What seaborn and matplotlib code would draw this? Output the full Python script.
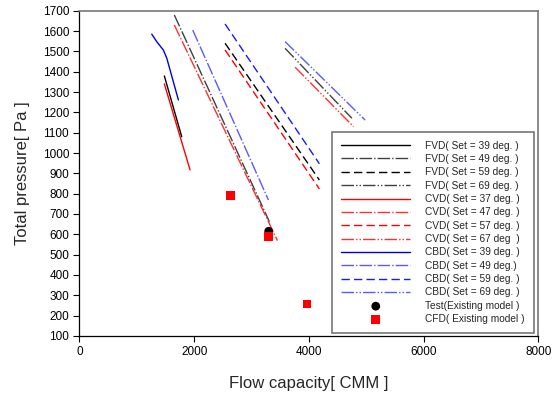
import matplotlib
matplotlib.use("Agg")
import matplotlib.pyplot as plt
import seaborn as sns
import pandas as pd

sns.set_theme(style="white")
plt.rcParams['font.family'] = ['Liberation Sans', 'DejaVu Sans']

# ---- data ----
fvd39_x = [1480, 1783]; fvd39_y = [1379, 1080]
fvd49_x = [1654, 3312]; fvd49_y = [1679, 662]
fvd59_x = [2539, 4184]; fvd59_y = [1540, 867]
fvd69_x = [3586, 4750]; fvd69_y = [1515, 1171]

cvd37_x = [1480, 1928]; cvd37_y = [1340, 917]
cvd47_x = [1654, 3452]; cvd47_y = [1630, 569]
cvd57_x = [2539, 4184]; cvd57_y = [1507, 823]
cvd67_x = [3761, 4778]; cvd67_y = [1422, 1130]

cbd39_x = [1260, 1352, 1462, 1522, 1725]; cbd39_y = [1585, 1546, 1507, 1467, 1261]
cbd49_x = [1975, 3295]; cbd49_y = [1605, 769]
cbd59_x = [2539, 4184]; cbd59_y = [1635, 947]
cbd69_x = [3586, 4982]; cbd69_y = [1548, 1162]

test_x = [3300]; test_y = [615]
cfd_x = [2638, 3295, 3965]; cfd_y = [792, 589, 257]

labels = ["FVD( Set = 39 deg. )", "FVD( Set = 49 deg. )", "FVD( Set = 59 deg. )", "FVD( Set = 69 deg. )",
          "CVD( Set = 37 deg. )", "CVD( Set = 47 deg. )", "CVD( Set = 57 deg. )", "CVD( Set = 67 deg  )",
          "CBD( Set = 39 deg. )", "CBD( Set = 49 deg.)", "CBD( Set = 59 deg. )", "CBD( Set = 69 deg. )"]

x_ticks = [0, 2000, 4000, 6000, 8000]
y_ticks = list(range(100, 1800, 100))

# ---- styles ----
solid = '-'
dashdot = (0, (9, 1.5, 1, 1.5))
dashed = (0, (6, 3))
dashdotdot = (0, (9, 1.5, 1, 1.5, 1, 1.5))

series = [
    (fvd39_x, fvd39_y, '#000000', solid),
    (fvd49_x, fvd49_y, '#404040', dashdot),
    (fvd59_x, fvd59_y, '#000000', dashed),
    (fvd69_x, fvd69_y, '#404040', dashdotdot),
    (cvd37_x, cvd37_y, '#ff0000', solid),
    (cvd47_x, cvd47_y, '#ff3030', dashdot),
    (cvd57_x, cvd57_y, '#ff0000', dashed),
    (cvd67_x, cvd67_y, '#ff3030', dashdotdot),
    (cbd39_x, cbd39_y, '#0000dd', solid),
    (cbd49_x, cbd49_y, '#5a5aff', dashdot),
    (cbd59_x, cbd59_y, '#1a1aff', dashed),
    (cbd69_x, cbd69_y, '#5a5aff', dashdotdot),
]

fig = plt.figure(figsize=(5.52, 3.98), dpi=100)
ax = fig.add_axes([0.144, 0.156, 0.831, 0.817])

for (xs, ys, c, ls), lab in zip(series, labels):
    sns.lineplot(x=xs, y=ys, color=c, linestyle=ls, linewidth=1.0, ax=ax,
                 label=lab, sort=False, estimator=None)

sns.scatterplot(x=test_x, y=test_y, color='black', marker='o', s=40,
                edgecolor='none', ax=ax, label="Test(Existing model )", zorder=5)
sns.scatterplot(x=cfd_x, y=cfd_y, color='#ff0000', marker='s', s=38,
                edgecolor='none', ax=ax, label="CFD( Existing model )", zorder=5)

ax.set_xlim(0, 8000)
ax.set_ylim(100, 1700)
ax.set_xticks(x_ticks)
ax.set_yticks(y_ticks)
ax.tick_params(axis='both', labelsize=8.5, direction='out', length=4, width=0.8,
               colors='black', bottom=True, left=True, top=False, right=False)
ax.set_xlabel("Flow capacity[ CMM ]", fontsize=12, labelpad=13)
ax.set_ylabel("Total pressure[ Pa ]", fontsize=12, labelpad=9)

for side in ['left', 'bottom']:
    ax.spines[side].set_color('black')
    ax.spines[side].set_linewidth(0.9)
for side in ['top', 'right']:
    ax.spines[side].set_color('#777777')
    ax.spines[side].set_linewidth(1.2)

leg = ax.legend(loc='lower right', bbox_to_anchor=(0.991, 0.008), fontsize=7.3,
                frameon=True, fancybox=False, edgecolor='#555555',
                handlelength=6.8, handletextpad=1.5, labelspacing=0.33,
                borderpad=0.9, borderaxespad=0, markerscale=1.0)
leg.get_frame().set_linewidth(1.2)

fig.savefig("out.png", dpi=100)
